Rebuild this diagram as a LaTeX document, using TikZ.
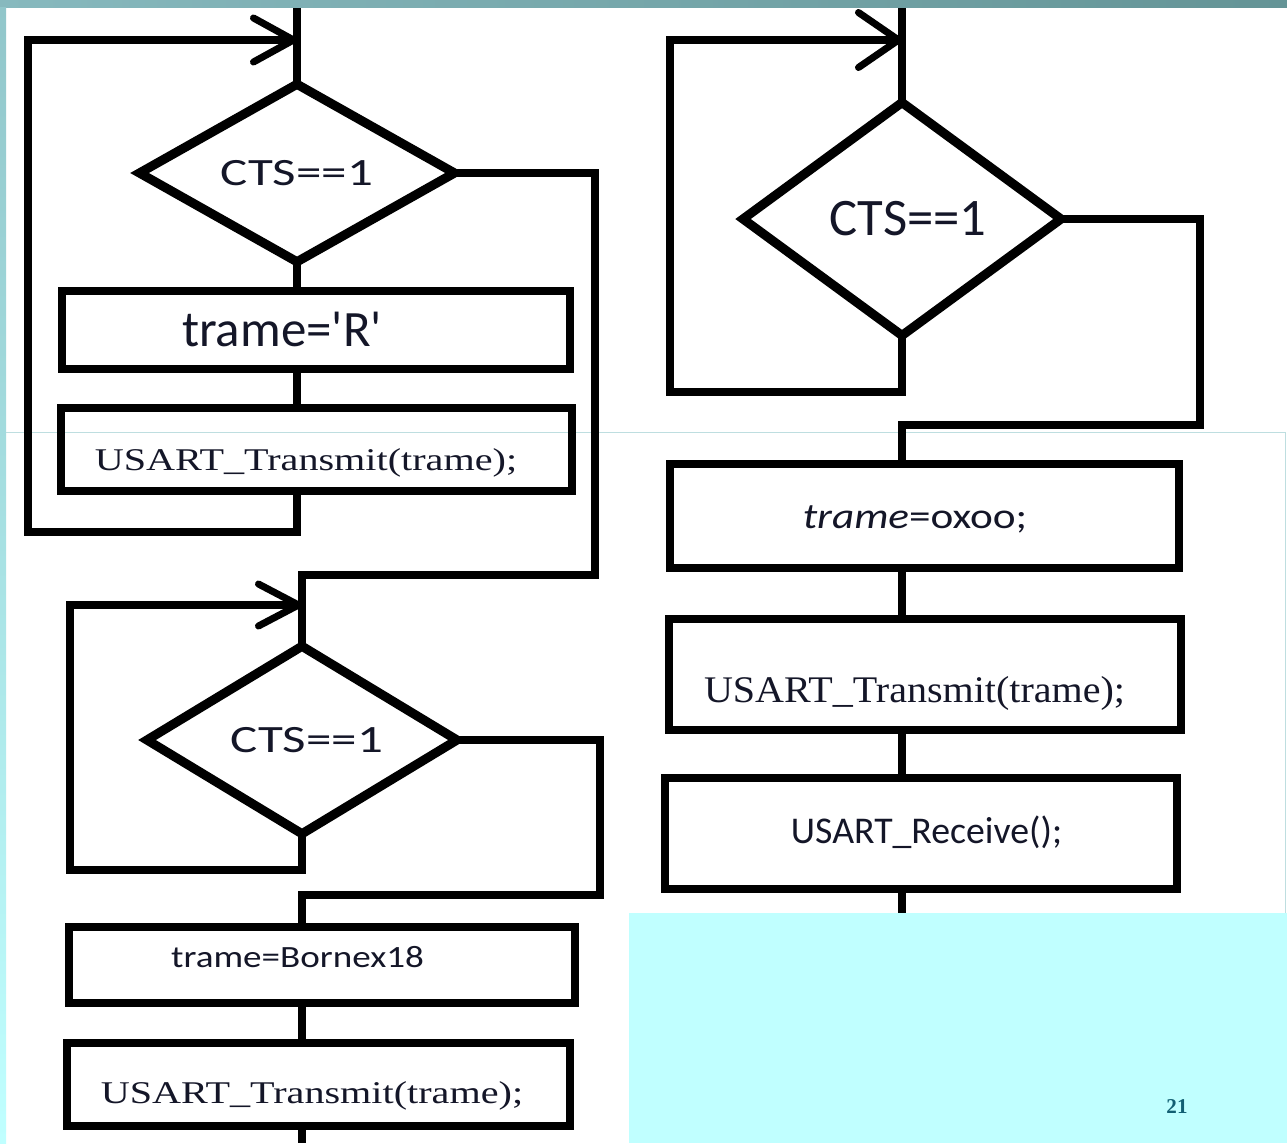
\documentclass[tikz,border=0pt]{standalone}
\usepackage{fontspec}
\setmainfont{Liberation Serif}
\newfontfamily\calfont{Carlito}
\newfontfamily\calwide[FakeStretch=1.32]{Carlito}
\newfontfamily\calmid[FakeStretch=1.2]{Carlito}
\newfontfamily\serwide[FakeStretch=1.27]{Liberation Serif}
\newfontfamily\sermid[FakeStretch=1.065]{Liberation Serif}
\usetikzlibrary{shapes.geometric, arrows.meta, calc}
\definecolor{SlideTeal}{RGB}{135,185,190}
\definecolor{SlideTealDk}{RGB}{100,148,150}
\definecolor{SlideEdge}{RGB}{145,198,202}
\definecolor{SlideCyan}{RGB}{192,255,255}
\definecolor{SlideSeam}{RGB}{190,222,224}
\definecolor{PageNum}{RGB}{18,95,115}
\definecolor{Ink}{RGB}{20,22,40}

\begin{document}
\begin{tikzpicture}[x=0.02cm, y=-0.02cm,
          box/.style={rectangle, draw, line width=5pt, inner sep=0pt,
                      text depth=0pt, text=Ink},
          cond/.style={diamond, draw, line width=5.2pt, inner sep=0pt,
                       outer sep=0pt, text=Ink},
          flow/.style={line width=4.6pt},
          loopback/.style={flow, -{Straight Barb[length=0.8cm, width=#1,
                           line width=4pt, round]}},
          loopback/.default=0.88cm
        ]
        \useasboundingbox (0,0) rectangle (1287,1143);
        % slide background
        \fill[white] (0,0) rectangle (1287,1143);
        \shade[left color=SlideTeal, right color=SlideTealDk] (0,0) rectangle (1287,7);
        \shade[top color=SlideEdge, bottom color=SlideCyan] (0,7) rectangle (6,1143);
        \draw[SlideSeam, line width=0.5pt] (6,432) -- (1285,432) -- (1285,913);
        \fill[SlideCyan] (629,913) rectangle (1287,1143);
        \node[font=\bfseries\fontsize{12}{14}\selectfont, text=PageNum] (pnum)
              at (1177,1107) {21};

        % first test: send 'R'
        \node[cond, minimum width=6.3cm, minimum height=3.5cm,
              font=\calwide\fontsize{22}{24}\selectfont] (d1) at (297,173) {CTS==1};
        \node[box, minimum width=10.16cm, minimum height=1.56cm, text height=0.64cm,
              font=\calfont\fontsize{29}{31}\selectfont] (b1) at (316,330)
              {\hspace*{-1.36cm}trame=\textquotesingle R\textquotesingle};
        \node[box, minimum width=10.22cm, minimum height=1.66cm, text height=0.82cm,
              font=\serwide\fontsize{18}{20}\selectfont] (b2) at (316.5,449.5)
              {\hspace*{-0.42cm}USART\_Transmit(trame);};

        % second test: send Bornex18
        \node[cond, minimum width=6.2cm, minimum height=3.5cm,
              font=\calwide\fontsize{22}{24}\selectfont] (d2) at (302,740)
              {\hspace*{0.2cm}CTS==1};
        \node[box, minimum width=10.12cm, minimum height=1.52cm, text height=0.08cm,
              font=\calmid\fontsize{17.6}{19}\selectfont] (b3) at (322,965)
              {\hspace*{-0.98cm}trame=Bornex18};
        \node[box, minimum width=10.06cm, minimum height=1.66cm, text height=0.74cm,
              font=\serwide\fontsize{18}{20}\selectfont] (b4) at (318.5,1084.5)
              {\hspace*{-0.26cm}USART\_Transmit(trame);};

        % third test: send 0x00 and receive
        \node[cond, minimum width=6.36cm, minimum height=4.66cm,
              font=\calfont\fontsize{30}{32}\selectfont] (d3) at (902,219)
              {\hspace*{0.24cm}CTS==1};
        \node[box, minimum width=10.18cm, minimum height=2.08cm, text height=0.48cm,
              font=\calmid\fontsize{20.5}{22}\selectfont] (b5) at (924.5,516)
              {\hspace*{-0.38cm}{\itshape trame}=oxoo;};
        \node[box, minimum width=10.24cm, minimum height=2.22cm, text height=1.1cm,
              font=\sermid\fontsize{21.4}{23}\selectfont] (b6) at (925,674.5)
              {\hspace*{-0.42cm}USART\_Transmit(trame);};
        \node[box, minimum width=10.24cm, minimum height=2.22cm, text height=0.38cm,
              font=\calfont\fontsize{21.5}{23}\selectfont] (b7) at (921,833.5)
              {\hspace*{0.22cm}USART\_Receive();};

        % free ends and corners
        \coordinate (topA)  at (297,8);
        \coordinate (hookA) at (297,40);
        \coordinate (loopA) at (28,532);
        \coordinate (exitA) at (595,575);
        \coordinate (hookB) at (302,605);
        \coordinate (loopB) at (70,870);
        \coordinate (exitB) at (600,895);
        \coordinate (endB)  at (302,1143);
        \coordinate (topC)  at (902,8);
        \coordinate (hookC) at (902,40);
        \coordinate (loopC) at (670,392);
        \coordinate (exitC) at (1200,425);
        \coordinate (endC)  at (902,913);

        \draw[flow] (topA) -- (d1.north);
        \draw[flow] (d1.south) -- (d1.south |- b1.north);
        \draw[flow] (b1.south -| d1.south) -- (b2.north -| d1.south);
        \draw[loopback] (b2.south -| d1.south) |- (loopA) |- (hookA);
        \draw[flow] (d1.east) -| (exitA) -| (d2.north);

        \draw[loopback=0.84cm] (d2.south) |- (loopB) |- (hookB);
        \draw[flow] (d2.east) -| (exitB) -| (b3.north -| d2.south);
        \draw[flow] (b3.south -| d2.south) -- (b4.north -| d2.south);
        \draw[flow] (b4.south -| d2.south) -- (endB);

        \draw[flow] (topC) -- (d3.north);
        \draw[loopback=1.1cm] (d3.south) |- (loopC) |- (hookC);
        \draw[flow] (d3.east) -| (exitC) -| (b5.north -| d3.south);
        \draw[flow] (b5.south -| d3.south) -- (b6.north -| d3.south);
        \draw[flow] (b6.south -| d3.south) -- (b7.north -| d3.south);
        \draw[flow] (b7.south -| d3.south) -- (endC);
      \end{tikzpicture}
\end{document}
